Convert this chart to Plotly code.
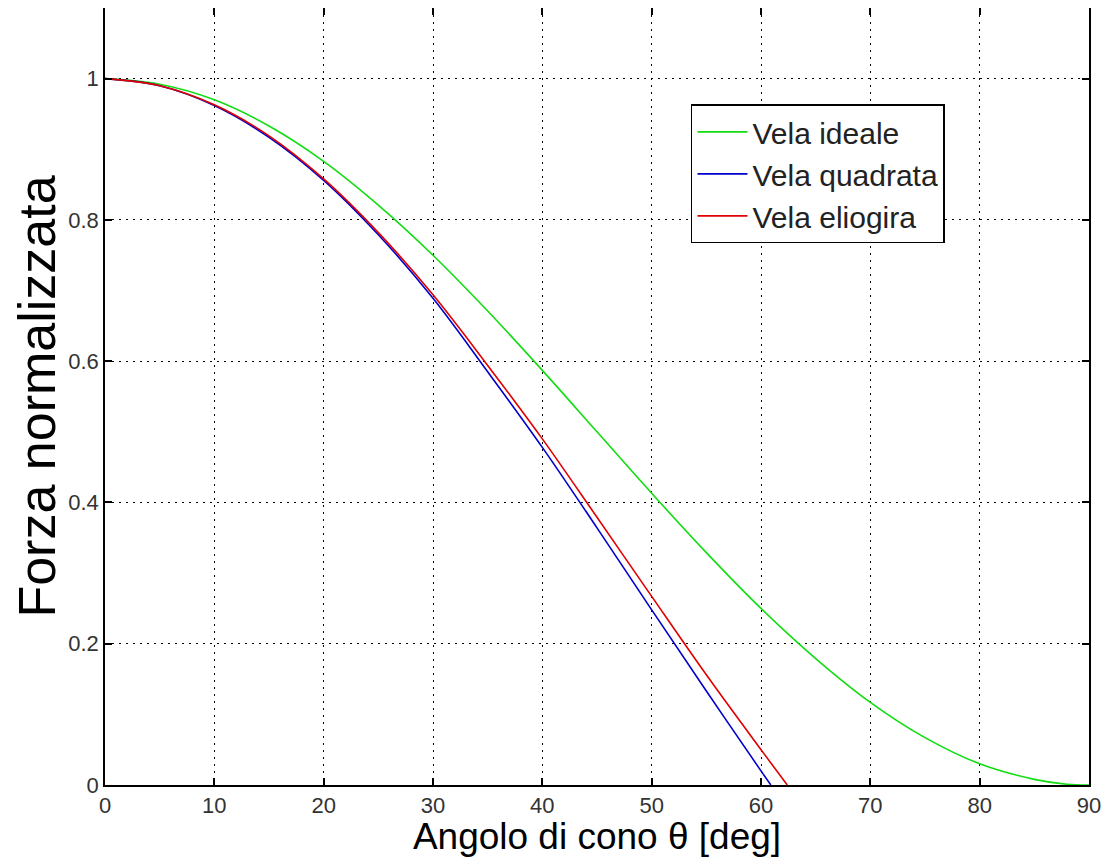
import plotly.graph_objects as go

# Cone angle (deg) and normalized force values
theta_ideale = [0, 5, 10, 15, 20, 25, 30, 35, 40, 45, 50, 55, 60, 65, 70, 75, 80, 85, 88, 90]
forza_ideale = [1.0, 0.992, 0.970, 0.933, 0.883, 0.821, 0.750, 0.671, 0.587, 0.500,
                0.413, 0.329, 0.250, 0.179, 0.117, 0.067, 0.030, 0.008, 0.001, 0.0]

theta_quadrata = [0, 5, 10, 15, 20, 25, 30, 35, 40, 45, 50, 55, 60, 60.9]
forza_quadrata = [1.0, 0.990, 0.962, 0.917, 0.856, 0.779, 0.689, 0.585, 0.478, 0.364,
                  0.248, 0.133, 0.020, 0.0]

theta_eliogira = [0, 5, 10, 15, 20, 25, 30, 35, 40, 45, 50, 55, 60, 62.4]
forza_eliogira = [1.0, 0.990, 0.963, 0.919, 0.858, 0.782, 0.694, 0.594, 0.490, 0.379,
                  0.267, 0.156, 0.050, 0.0]

x_ticks = [0, 10, 20, 30, 40, 50, 60, 70, 80, 90]
y_ticks = [0, 0.2, 0.4, 0.6, 0.8, 1]
y_tick_text = ["0", "0.2", "0.4", "0.6", "0.8", "1"]

FONT = "Liberation Sans, Arial, sans-serif"

fig = go.Figure()
fig.add_trace(go.Scatter(x=theta_ideale, y=forza_ideale, mode="lines", name="Vela ideale",
                         line=dict(color="#11dd11", width=1.6, shape="spline", smoothing=1.0)))
fig.add_trace(go.Scatter(x=theta_quadrata, y=forza_quadrata, mode="lines", name="Vela quadrata",
                         line=dict(color="#0000cc", width=1.6, shape="spline", smoothing=1.0)))
fig.add_trace(go.Scatter(x=theta_eliogira, y=forza_eliogira, mode="lines", name="Vela eliogira",
                         line=dict(color="#e00000", width=1.6, shape="spline", smoothing=1.0)))

axis_common = dict(
    showline=True, linecolor="black", linewidth=1.5, mirror="ticks",
    ticks="inside", ticklen=7, tickcolor="black", tickwidth=1.5,
    showgrid=True, gridcolor="black", gridwidth=1.4, griddash="2px,5px",
    zeroline=False, tickfont=dict(family=FONT, size=22, color="#333333"),
    automargin=False,
)

# The page body has an 8px margin; the figure is sized/offset so the plot
# area lands where it is in the reference.
fig.update_layout(
    width=1107, height=849,
    margin=dict(l=97, r=26, t=0, b=72),
    paper_bgcolor="white", plot_bgcolor="white",
    font=dict(family=FONT, color="black"),
    xaxis=dict(range=[0, 90], tickvals=x_ticks,
               title=dict(text="Angolo di cono θ [deg]", font=dict(family=FONT, size=37, color="black"),
                          standoff=2),
               **axis_common),
    yaxis=dict(range=[0, 1.1], tickvals=y_ticks, ticktext=y_tick_text,
               title=dict(text="Forza normalizzata", font=dict(family=FONT, size=52, color="black"),
                          standoff=0),
               **axis_common),
    legend=dict(x=0.5955, y=0.876, xanchor="left", yanchor="top",
                bgcolor="white", bordercolor="black", borderwidth=1.5,
                font=dict(family=FONT, size=30, color="#222222"),
                itemwidth=50, tracegroupgap=0),
    showlegend=True,
)

fig.write_html("out.html")
